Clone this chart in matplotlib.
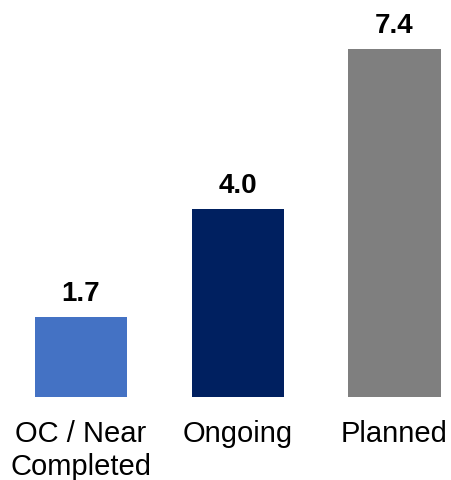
import matplotlib
matplotlib.use("Agg")
import matplotlib.pyplot as plt

categories = ["OC / Near\nCompleted", "Ongoing", "Planned"]
values = [1.7, 4.0, 7.4]
colors = ["#4472C4", "#002060", "#7F7F7F"]

plt.rcParams['font.family'] = ['Liberation Sans', 'DejaVu Sans']

fig = plt.figure(figsize=(4.52, 4.81), dpi=100)
ax = fig.add_axes([0, 83/481, 1, 398/481])

x = list(range(len(categories)))
bars = ax.bar(x, values, width=0.587, color=colors)

for xi, v in zip(x, values):
    ax.annotate(f"{v:.1f}", (xi, v), xytext=(0, 8), textcoords="offset points",
                ha="center", va="bottom", fontsize=20, fontweight="bold", color="black")

ax.set_xlim(-81/156.75, (452-81)/156.75)
ax.set_ylim(0, 398/47.0)
ax.set_xticks(x)
ax.set_xticklabels(categories, fontsize=21, linespacing=1.22)
ax.tick_params(axis='x', length=0, pad=16)
ax.set_yticks([])
for s in ax.spines.values():
    s.set_visible(False)

fig.savefig("out.png", dpi=100)
